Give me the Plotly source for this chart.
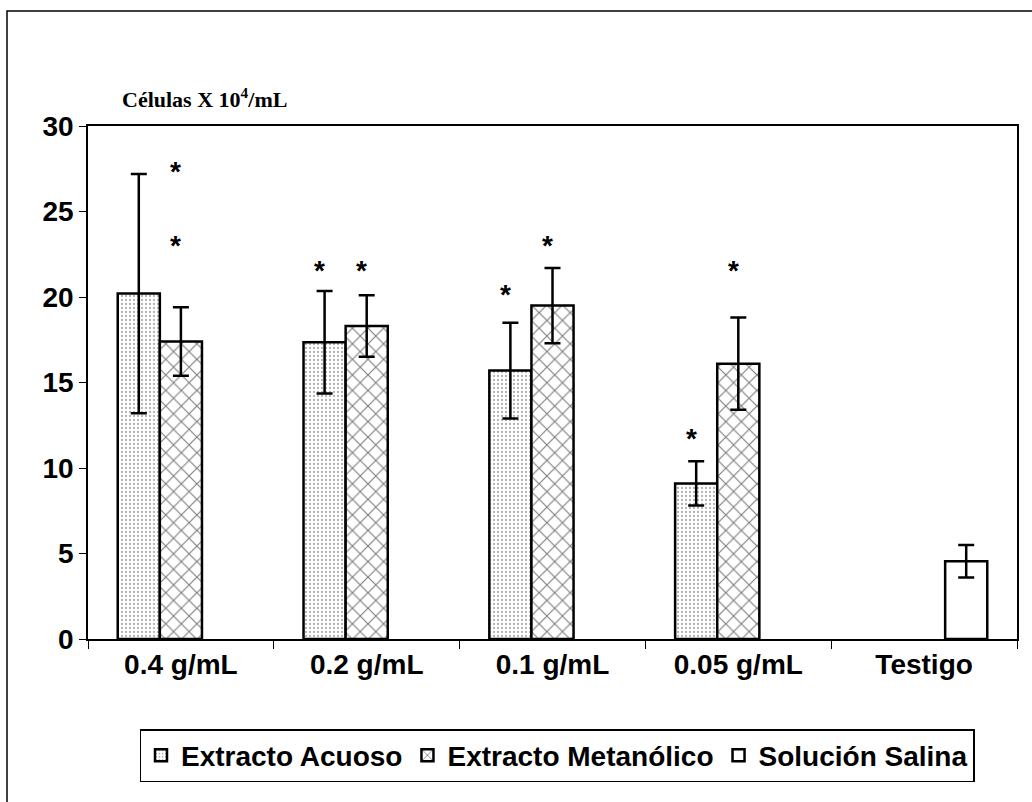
import plotly.graph_objects as go

categories = ["0.4 g/mL", "0.2 g/mL", "0.1 g/mL", "0.05 g/mL", "Testigo"]
series_names = ["Extracto Acuoso", "Extracto Metanólico", "Solución Salina"]

acuoso = [20.2, 17.35, 15.7, 9.1, None]
acuoso_err = [7.0, 3.0, 2.8, 1.3, None]
metanolico = [17.4, 18.3, 19.5, 16.1, None]
metanolico_err = [2.0, 1.8, 2.2, 2.7, None]
salina = [None, None, None, None, 4.55]
salina_err = [None, None, None, None, 0.95]

# significance stars: (category, series index, y value)
stars_cat = ["0.4 g/mL", "0.4 g/mL", "0.2 g/mL", "0.2 g/mL", "0.1 g/mL", "0.1 g/mL", "0.05 g/mL", "0.05 g/mL"]
stars_series = [1, 1, 0, 1, 0, 1, 0, 1]
stars_y = [27.8, 23.5, 22.0, 22.0, 20.6, 23.5, 12.2, 22.0]

y_ticks = [0, 5, 10, 15, 20, 25, 30]

FONT = "Liberation Sans, Arial, sans-serif"

fig = go.Figure()

def err(arr):
    return dict(type="data", array=arr, visible=True, color="black", thickness=2.5, width=8)

fig.add_trace(go.Bar(
    name=series_names[0], x=categories, y=acuoso, error_y=err(acuoso_err),
    marker=dict(color="white", line=dict(color="black", width=2.5),
                pattern=dict(shape=".", fgcolor="#666666", bgcolor="white", size=4, solidity=0.25)),
))
fig.add_trace(go.Bar(
    name=series_names[1], x=categories, y=metanolico, error_y=err(metanolico_err),
    marker=dict(color="white", line=dict(color="black", width=2.5),
                pattern=dict(shape="x", fgcolor="black", bgcolor="white", size=11, solidity=0.2)),
))
fig.add_trace(go.Bar(
    name=series_names[2], x=categories, y=salina, error_y=err(salina_err),
    marker=dict(color="white", line=dict(color="black", width=2.5)),
))

# stars, placed on slot centers (3 slots per category)
slot_px = 42
for c, s, yv in zip(stars_cat, stars_series, stars_y):
    fig.add_annotation(x=c, y=yv, xref="x", yref="y", text="*", showarrow=False,
                       xshift=(s - 1) * slot_px - 5, yshift=-8,
                       font=dict(family=FONT, size=28, color="black", weight="bold"))

fig.add_annotation(xref="paper", yref="paper", x=0.034, y=1.055, xanchor="left", yanchor="middle",
                   text="Células X 10<sup>4</sup>/mL", showarrow=False,
                   font=dict(family="Liberation Serif, Times New Roman, serif", size=22, color="black", weight="bold"))

# outer frame
fig.add_shape(type="rect", xref="paper", yref="paper",
              x0=(7 - 88) / 929, x1=(1045 - 88) / 929, y0=(639 - 815) / 513, y1=(639 - 11) / 513,
              line=dict(color="black", width=1.5), fillcolor="rgba(0,0,0,0)", layer="below")

fig.update_layout(
    width=1032, height=802,
    margin=dict(l=88, r=15, t=126, b=163),
    paper_bgcolor="white", plot_bgcolor="white",
    barmode="group", bargap=0.32, bargroupgap=0,
    showlegend=True,
    legend=dict(orientation="h", xref="container", yref="container",
                x=557 / 1032, y=1 - 729 / 802, xanchor="center", yanchor="top",
                bordercolor="black", borderwidth=1.5, bgcolor="white",
                font=dict(family=FONT, size=28, color="black", weight="bold"),
                itemwidth=30, traceorder="normal"),
    xaxis=dict(type="category", showline=True, linecolor="black", linewidth=1.5, mirror=True,
               ticks="outside", tickson="boundaries", ticklen=8, tickcolor="black",
               tickfont=dict(family=FONT, size=28, color="black", weight="bold"),
               showgrid=False),
    yaxis=dict(range=[0, 30], tickvals=y_ticks, showline=True, linecolor="black", linewidth=1.5, mirror=True,
               ticks="outside", ticklen=7, tickcolor="black",
               tickfont=dict(family=FONT, size=28, color="black", weight="bold"),
               showgrid=False, zeroline=False),
)

fig.write_html("out.html")
